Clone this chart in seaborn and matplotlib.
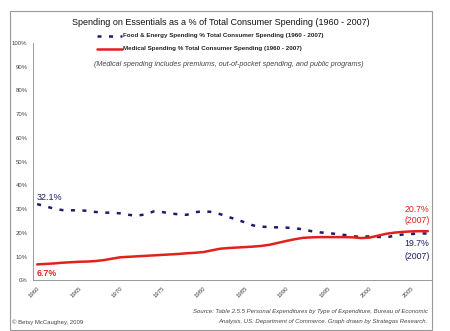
import matplotlib
matplotlib.use("Agg")
import matplotlib.pyplot as plt
from matplotlib.lines import Line2D
from matplotlib.patches import Rectangle
import seaborn as sns
import pandas as pd
import numpy as np

years = list(range(1960, 2008))
food_energy = [32.1, 31.2, 30.2, 29.6, 29.5, 29.5, 29.3, 28.8, 28.5, 28.5,
               28.2, 27.6, 27.2, 27.8, 29.0, 28.8, 28.2, 27.8, 27.6, 28.7,
               29.1, 28.8, 27.9, 26.7, 25.6, 24.4, 23.1, 22.6, 22.4, 22.3,
               22.2, 21.9, 21.5, 20.7, 20.2, 19.9, 19.5, 19.1, 18.5, 18.4,
               18.5, 18.3, 18.1, 18.8, 19.3, 19.5, 19.8, 19.7]
medical = [6.7, 6.9, 7.1, 7.4, 7.6, 7.8, 7.9, 8.1, 8.5, 9.1,
           9.7, 9.9, 10.1, 10.3, 10.5, 10.7, 10.9, 11.1, 11.4, 11.6,
           11.9, 12.6, 13.3, 13.6, 13.8, 14.0, 14.2, 14.5, 15.0, 15.8,
           16.6, 17.3, 17.9, 18.1, 18.2, 18.2, 18.2, 18.2, 18.1, 17.8,
           18.0, 18.8, 19.6, 20.1, 20.4, 20.6, 20.7, 20.7]
series_names = ["Food & Energy Spending % Total Consumer Spending (1960 - 2007)",
                "Medical Spending % Total Consumer Spending (1960 - 2007)"]
y_ticks = list(range(0, 101, 10))
x_label_years = list(range(1960, 2006, 5))

NAVY = "#1c1c6b"
RED = "#e3211c"
GRAY = "#444444"
FONT = "Liberation Sans"

sns.set_style("white")
plt.rcParams["font.family"] = [FONT, "DejaVu Sans"]

df = pd.DataFrame({
    "Year": years * 2,
    "Share": food_energy + medical,
    "Series": [series_names[0]] * len(years) + [series_names[1]] * len(years),
})

fig = plt.figure(figsize=(4.5, 3.31), dpi=100)
ax = fig.add_axes([33 / 450, 1 - 280.3 / 331, (432 - 33) / 450, (280.3 - 43) / 331])

sns.lineplot(data=df[df.Series == series_names[0]], x="Year", y="Share", ax=ax,
             color=NAVY, linewidth=1.8, legend=False)
ax.lines[-1].set_dashes([1.6, 3.0])
ax.lines[-1].set_dash_capstyle("butt")
sns.lineplot(data=df[df.Series == series_names[1]], x="Year", y="Share", ax=ax,
             color=RED, linewidth=1.8, legend=False)

ax.set_xlim(1959.5, 2007.5)
ax.set_ylim(0, 100)
ax.set_xlabel("")
ax.set_ylabel("")

ax.set_yticks(y_ticks)
ax.set_yticklabels([f"{v}%" for v in y_ticks], fontsize=4.3, color=GRAY)
ax.set_xticks(x_label_years)
ax.set_xticklabels([str(y) for y in x_label_years], fontsize=4.3, color=GRAY,
                   rotation=45, ha="right", va="top", rotation_mode="anchor")
ax.set_xticks(np.arange(1959.5, 2008, 1), minor=True)
ax.tick_params(axis="x", which="major", length=0, pad=4)
ax.tick_params(axis="x", which="minor", length=2, width=0.6, color="#888888", direction="out")
ax.tick_params(axis="y", which="major", length=2, width=0.6, color="#888888", direction="out", pad=2)

for s in ["top", "right"]:
    ax.spines[s].set_visible(False)
for s in ["left", "bottom"]:
    ax.spines[s].set_color("#999999")
    ax.spines[s].set_linewidth(0.7)

# data labels
ax.text(1959.9, 33.2, "32.1%", color=NAVY, fontsize=6.5, ha="left", va="bottom")
ax.text(1959.9, 2.7, "6.7%", color=RED, fontsize=6.3, fontweight="bold", ha="left", va="center")
ax.text(2007.2, 30.0, "20.7%", color=RED, fontsize=6.3, ha="right", va="center")
ax.text(2007.2, 25.0, "(2007)", color=RED, fontsize=6.3, ha="right", va="center")
ax.text(2007.2, 15.3, "19.7%", color=NAVY, fontsize=6.3, ha="right", va="center")
ax.text(2007.2, 10.2, "(2007)", color=NAVY, fontsize=6.3, ha="right", va="center")

# outer frame
fig.patches.append(Rectangle((10 / 450, 1 - 330 / 331), 422 / 450, 319 / 331,
                             transform=fig.transFigure, fill=False,
                             edgecolor="#999999", linewidth=0.8))

# title
fig.text(221 / 450, 1 - 22.6 / 331,
         "Spending on Essentials as a % of Total Consumer Spending (1960 - 2007)",
         ha="center", va="center", fontsize=6.5, color="#111111")

# legend
for i, (name, col) in enumerate(zip(series_names, [NAVY, RED])):
    yy = 1 - (35.5 + 13 * i) / 331
    ln = Line2D([97 / 450, 122 / 450], [yy, yy], transform=fig.transFigure,
                color=col, linewidth=1.8)
    if i == 0:
        ln.set_dashes([1.6, 3.0])
    fig.lines.append(ln)
    fig.text(123 / 450, yy, name, ha="left", va="center", fontsize=4.5,
             fontweight="bold", color="#222222")

fig.text(228.5 / 450, 1 - 64 / 331,
         "(Medical spending includes premiums, out-of-pocket spending, and public programs)",
         ha="center", va="center", fontsize=5.2, style="italic", color=GRAY)

fig.text(428 / 450, 1 - 312 / 331,
         "Source: Table 2.5.5 Personal Expenditures by Type of Expenditure, Bureau of Economic",
         ha="right", va="center", fontsize=4.3, style="italic", color=GRAY)
fig.text(428 / 450, 1 - 322 / 331,
         "Analysis, US. Department of Commerce. Graph drawn by Strategas Research.",
         ha="right", va="center", fontsize=4.3, style="italic", color=GRAY)
fig.text(12 / 450, 1 - 322 / 331, "\u00a9 Betsy McCaughey, 2009",
         ha="left", va="center", fontsize=4.3, color=GRAY)

fig.savefig("out.png", dpi=100)
